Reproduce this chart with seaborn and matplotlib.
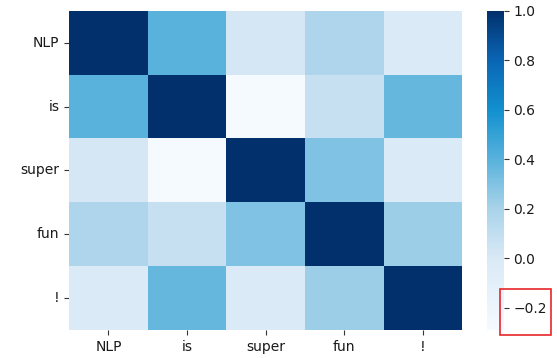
import matplotlib
matplotlib.use("Agg")
import matplotlib.pyplot as plt
from matplotlib.colors import LinearSegmentedColormap
from matplotlib.patches import Rectangle
import numpy as np
import pandas as pd
import seaborn as sns

tokens = ["NLP", "is", "super", "fun", "!"]

# pairwise similarity between the tokens (symmetric)
row_nlp = [1.00, 0.40, 0.02, 0.18, -0.02]
row_is = [0.40, 1.00, -0.29, 0.08, 0.37]
row_super = [0.02, -0.29, 1.00, 0.30, -0.02]
row_fun = [0.18, 0.08, 0.30, 1.00, 0.23]
row_bang = [-0.02, 0.37, -0.02, 0.23, 1.00]

sim = pd.DataFrame([row_nlp, row_is, row_super, row_fun, row_bang],
                   index=tokens, columns=tokens)

# blue ramp anchored at data values
vmin, vmax = sim.values.min(), sim.values.max()
anchors = [(vmin, "#f5faff"), (0.0, "#d9e9f6"), (0.2, "#a9d3ea"),
           (0.4, "#58b2dc"), (0.6, "#1290cf"), (0.8, "#0a66b4"), (vmax, "#02306c")]
cmap = LinearSegmentedColormap.from_list(
    "blue_ramp", [((v - vmin) / (vmax - vmin), c) for v, c in anchors])

sns.set_style("white")
fig = plt.figure(figsize=(5.57, 3.58), dpi=100)
ax = fig.add_axes([0.124, 0.078, 0.706, 0.892])
cax = fig.add_axes([0.874, 0.078, 0.030, 0.892])

sns.heatmap(sim, ax=ax, cbar_ax=cax, cmap=cmap, linewidths=0)
ax.tick_params(axis="both", bottom=True, left=True, length=3.5, width=0.8,
               labelsize=10, color="#333333", labelcolor="#1a1a1a")
ax.tick_params(axis="y", rotation=0)
ax.tick_params(axis="x", rotation=0)
cax.tick_params(right=True, length=3.5, width=0.8, labelsize=10,
                color="#333333", labelcolor="#1a1a1a")
cax.set_yticks([-0.2, 0.0, 0.2, 0.4, 0.6, 0.8, 1.0])
for sp in cax.spines.values():
    sp.set_visible(False)

# red box around the lowest colorbar tick label
fig.canvas.draw()
renderer = fig.canvas.get_renderer()
fw, fh = fig.bbox.width, fig.bbox.height
for lab in cax.get_yticklabels():
    if abs(lab.get_position()[1] + 0.2) < 1e-6:
        bb = lab.get_window_extent(renderer)
        x0 = cax.bbox.x1 - 4
        x1 = bb.x1 + 4
        yc = (bb.y0 + bb.y1) / 2
        y0 = yc - 26
        y1 = yc + 20
        fig.patches.append(Rectangle((x0 / fw, y0 / fh), (x1 - x0) / fw, (y1 - y0) / fh,
                                     transform=fig.transFigure, fill=False,
                                     edgecolor="#e8262a", linewidth=1.2))

fig.savefig("out.png", dpi=100)
